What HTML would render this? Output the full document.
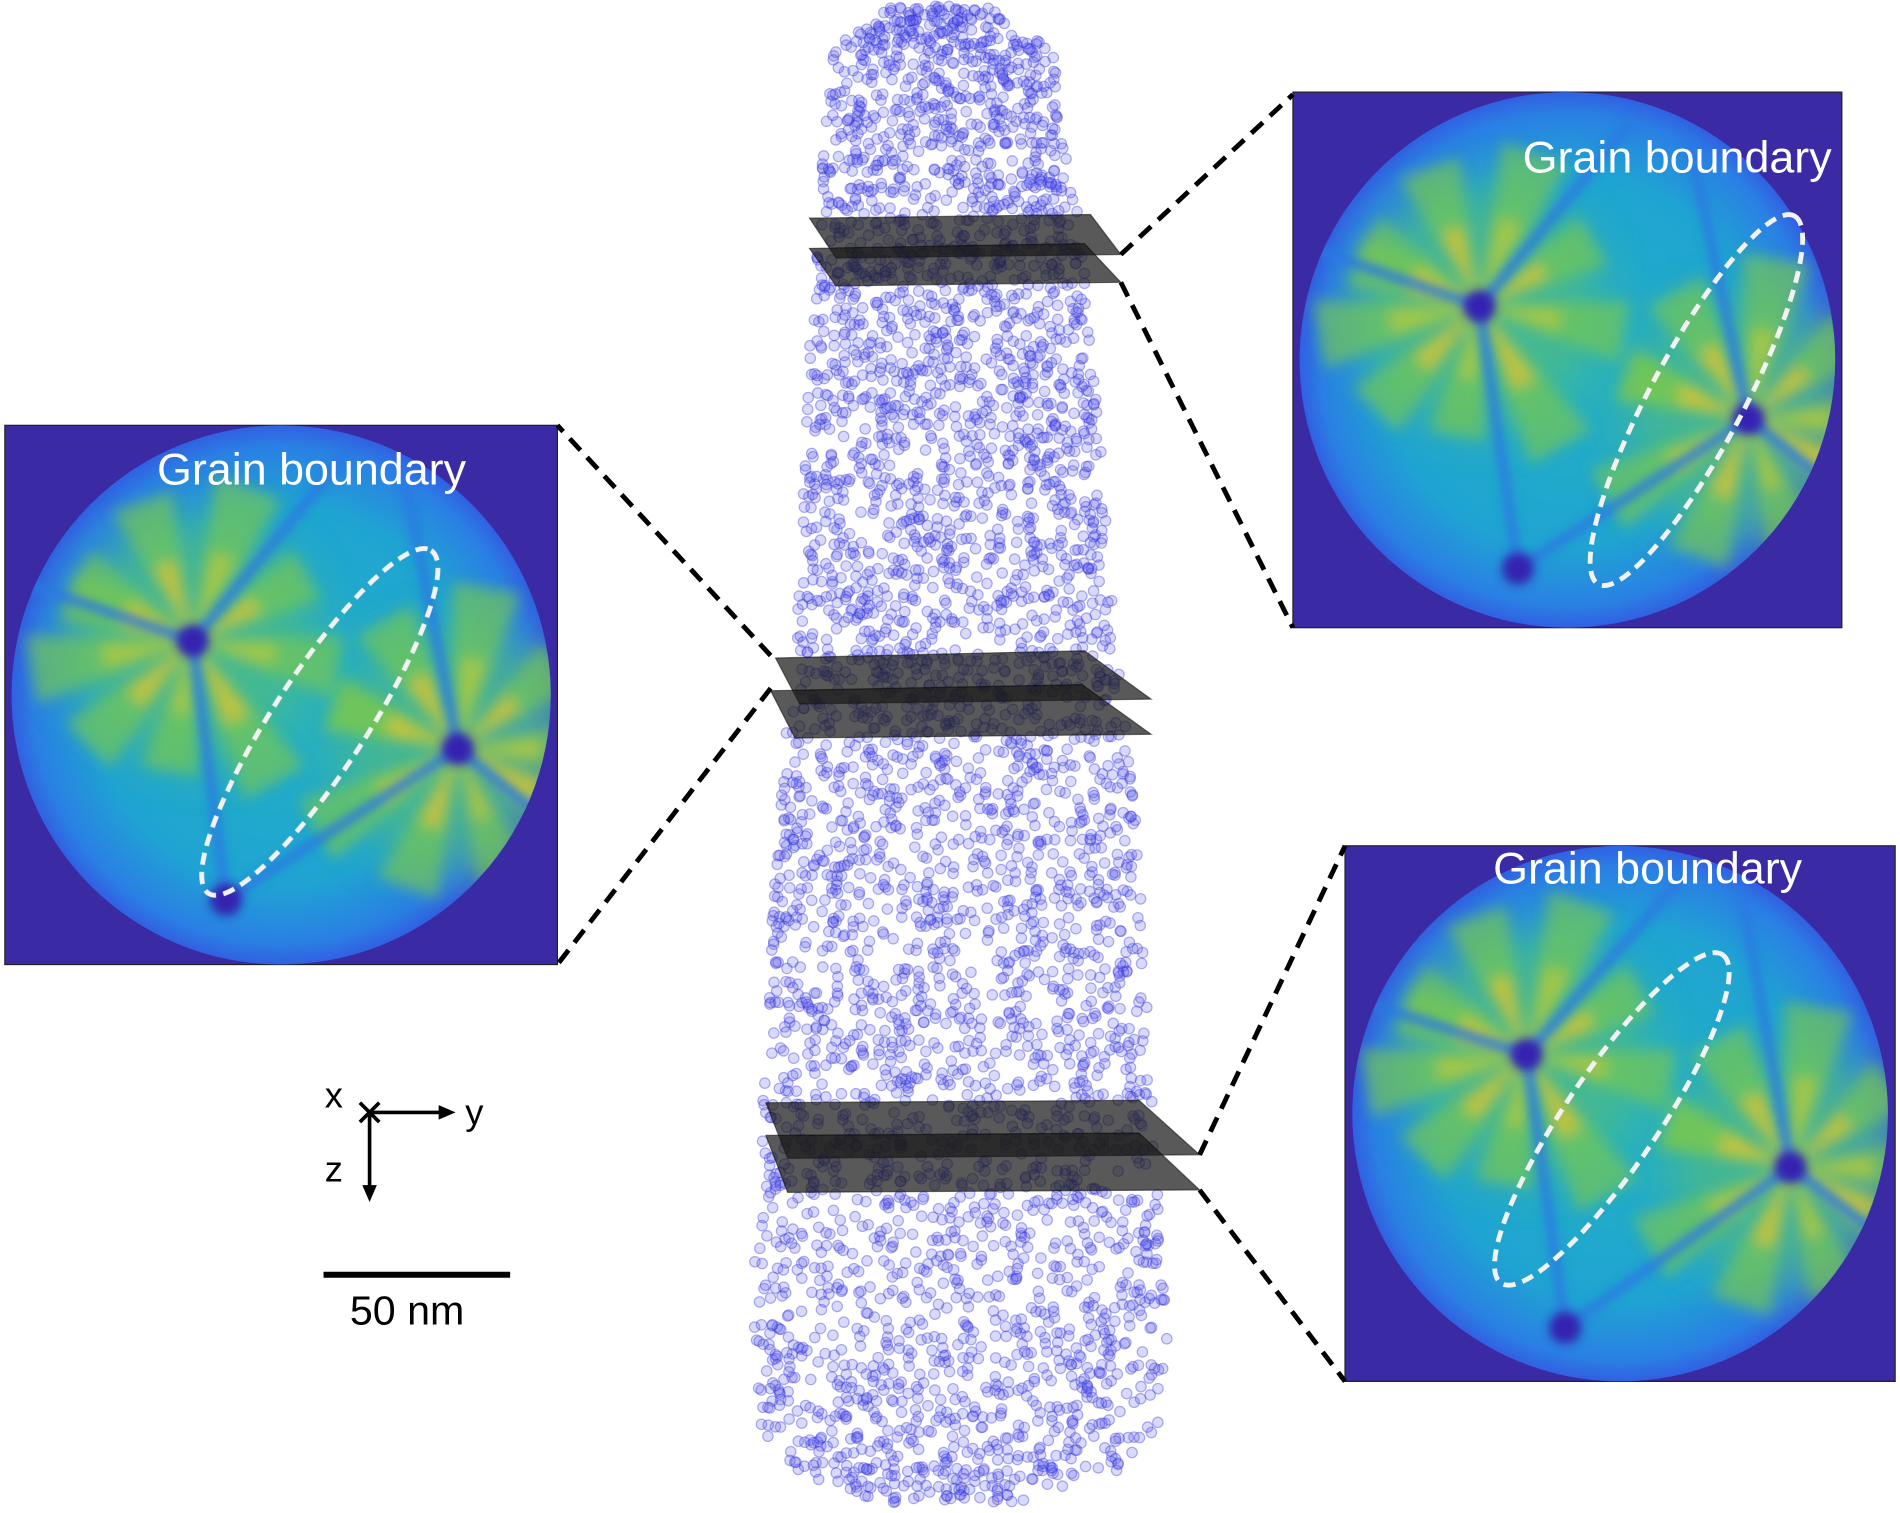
<!DOCTYPE html>
<html><head><meta charset="utf-8"><style>
html,body{margin:0;padding:0;background:#fff}
svg{display:block}
</style></head><body>
<svg id="root" xmlns="http://www.w3.org/2000/svg" width="1900" height="1513" viewBox="0 0 1568 1248.6">
<defs>
<radialGradient id="disk" cx="50%" cy="50%" r="50%">
<stop offset="0%" stop-color="#25b2c2"/><stop offset="70%" stop-color="#1fa4d2"/><stop offset="92%" stop-color="#2a80e4"/><stop offset="100%" stop-color="#3160e2"/>
</radialGradient>
<filter id="blur" x="-20%" y="-20%" width="140%" height="140%"><feGaussianBlur stdDeviation="6"/></filter>
<filter id="blur2" x="-50%" y="-50%" width="200%" height="200%"><feGaussianBlur stdDeviation="4"/></filter>
<filter id="blur3" x="-50%" y="-50%" width="200%" height="200%"><feGaussianBlur stdDeviation="20"/></filter>
</defs>
<g id="cloud"></g>
<g id="planes"></g>
<g id="panels"></g>
<g id="conn" stroke="#000" stroke-width="4" stroke-dasharray="13 8" fill="none">
<line x1="925" y1="210" x2="1067" y2="78"/><line x1="925" y1="233" x2="1067" y2="518"/>
<line x1="636" y1="541" x2="460" y2="351"/><line x1="636" y1="568" x2="460" y2="796"/>
<line x1="990" y1="953" x2="1110" y2="698"/><line x1="990" y1="982" x2="1110" y2="1140"/>
</g>
<g stroke="#000" stroke-width="3" fill="#000">
<line x1="305" y1="918" x2="364" y2="918"/><polygon points="376,918 362,912 362,924" stroke="none"/>
<line x1="305" y1="918" x2="305" y2="980"/><polygon points="305,992 299,978 311,978" stroke="none"/>
<line x1="297" y1="910" x2="313" y2="926"/><line x1="313" y1="910" x2="297" y2="926"/>
</g>
<text x="268" y="914" font-family="Liberation Sans, sans-serif" font-size="30">x</text>
<text x="384" y="928" font-family="Liberation Sans, sans-serif" font-size="30">y</text>
<text x="268" y="975" font-family="Liberation Sans, sans-serif" font-size="30">z</text>
<line x1="267" y1="1052" x2="421" y2="1052" stroke="#000" stroke-width="5"/>
<text x="336" y="1093" text-anchor="middle" font-family="Liberation Sans, sans-serif" font-size="34">50 nm</text>
</svg>
<script>
const NS='http://www.w3.org/2000/svg';
function mk(tag,attrs,parent){const e=document.createElementNS(NS,tag);for(const k in attrs)e.setAttribute(k,attrs[k]);parent.appendChild(e);return e;}
let seed=12345;function rnd(){seed=(seed*1103515245+12345)%2147483648;return seed/2147483648;}
const profY=[5,40,150,300,500,700,900,1100,1180,1215,1240];
const profW=[40,90,105,118,130,150,160,172,165,130,60];
const profC=[775,778,782,785,788,790,790,792,792,790,780];
function interp(arr,y){for(let i=0;i<profY.length-1;i++){if(y<=profY[i+1]){const t=(y-profY[i])/(profY[i+1]-profY[i]);return arr[i]+t*(arr[i+1]-arr[i]);}}return arr[arr.length-1];}
const cloud=document.getElementById('cloud');
for(let i=0;i<4600;i++){
  const y=5+rnd()*1235; const hw=interp(profW,y), c=interp(profC,y);
  const x=c+(rnd()*2-1)*hw;
  const p=mk('circle',{cx:x.toFixed(1),cy:y.toFixed(1),r:4.3,fill:'rgba(80,80,235,0.22)',stroke:'rgba(50,50,215,0.38)','stroke-width':1},cloud);
  
  
}
const planes=document.getElementById('planes');
const sheets=[
 "668,180 900,177 925,210 690,213","668,205 895,201 925,233 690,236",
 "640,543 895,537 950,577 660,581","636,570 893,565 950,606 656,609",
 "632,910 940,908 990,953 650,956","632,937 940,935 990,982 650,984"];
sheets.forEach((pts,i)=>{const s=mk('polygon',{points:pts,fill:'rgba(25,25,25,0.72)',stroke:'rgba(0,0,0,0.5)','stroke-width':1},planes);
 
 });
const panelsG=document.getElementById('panels');
const panels=[
 {x:4,y:351,w:456,h:445,j:[[0.34,0.40],[0.82,0.60]],spot:[0.40,0.88],el:[0.57,0.55,0.37,0.085,-57],tx:0.555,ty:0.11},
 {x:1067,y:76,w:453,h:442,j:[[0.34,0.40],[0.83,0.61]],spot:[0.41,0.89],el:[0.735,0.575,0.38,0.085,-62],tx:0.70,ty:0.15},
 {x:1110,y:698,w:454,h:442,j:[[0.33,0.39],[0.81,0.60]],spot:[0.40,0.90],el:[0.485,0.51,0.36,0.085,-56],tx:0.55,ty:0.07}];
const rayAngles=[[-150,-110,-70,-30,10,60,100,135,170,200],[-160,-120,-80,-40,0,30,70,110,150,200]];
panels.forEach((P,pi)=>{
  const g=mk('g',{},panelsG);
  
  
  const X=f=>P.x+f*P.w, Y=f=>P.y+f*P.h;
  mk('rect',{x:P.x,y:P.y,width:P.w,height:P.h,fill:'#3a2aa3',stroke:'#222','stroke-width':1},g);
  const cid='clip'+pi;const cp=mk('clipPath',{id:cid},g);
  const R=Math.min(P.w,P.h)/2;
  mk('circle',{cx:X(0.5),cy:Y(0.5),r:R},cp);
  mk('circle',{cx:X(0.5),cy:Y(0.5),r:R,fill:'url(#disk)'},g);
  const inner=mk('g',{'clip-path':'url(#'+cid+')'},g);
  const hg=mk('g',{filter:'url(#blur3)'},inner);
  P.j.forEach(jj=>mk('circle',{cx:X(jj[0]),cy:Y(jj[1]),r:R*0.45,fill:'#5cc070',opacity:0.6},hg));
  const wg=mk('g',{filter:'url(#blur)'},inner);
  P.j.forEach((jj,k)=>{
    const cx=X(jj[0]),cy=Y(jj[1]);
    rayAngles[k].forEach((a,ai)=>{
      const L=R*(0.5+0.12*((ai*7)%3)/2), hw=12*Math.PI/180, ar=a*Math.PI/180;
      const pts=[[cx,cy],[cx+L*Math.cos(ar-hw),cy+L*Math.sin(ar-hw)],[cx+L*Math.cos(ar+hw),cy+L*Math.sin(ar+hw)]];
      mk('polygon',{points:pts.map(p=>p.join(',')).join(' '),fill:'#78c850',opacity:0.65},wg);
      const L2=L*0.55;
      const pts2=[[cx,cy],[cx+L2*Math.cos(ar-hw*0.7),cy+L2*Math.sin(ar-hw*0.7)],[cx+L2*Math.cos(ar+hw*0.7),cy+L2*Math.sin(ar+hw*0.7)]];
      mk('polygon',{points:pts2.map(p=>p.join(',')).join(' '),fill:(ai%2?'#e6c233':'#bcc83c'),opacity:0.7},wg);
    });
  });
  const bl=mk('g',{stroke:'#2c78e2','stroke-width':7,fill:'none',filter:'url(#blur2)'},inner);
  const j0=P.j[0],j1=P.j[1],s=P.spot;
  mk('line',{x1:X(j0[0]),y1:Y(j0[1]),x2:X(s[0]),y2:Y(s[1])},bl);
  mk('line',{x1:X(j1[0]),y1:Y(j1[1]),x2:X(s[0]),y2:Y(s[1])},bl);
  mk('line',{x1:X(j0[0]),y1:Y(j0[1]),x2:X(0.0),y2:Y(0.28)},bl);
  mk('line',{x1:X(j0[0]),y1:Y(j0[1]),x2:X(0.62),y2:Y(0.05)},bl);
  mk('line',{x1:X(j1[0]),y1:Y(j1[1]),x2:X(0.72),y2:Y(0.08)},bl);
  mk('line',{x1:X(j1[0]),y1:Y(j1[1]),x2:X(1.0),y2:Y(0.75)},bl);
  const sg=mk('g',{fill:'#3522b0',filter:'url(#blur2)'},inner);
  [j0,j1,s].forEach(q=>mk('circle',{cx:X(q[0]),cy:Y(q[1]),r:R*0.06},sg));
  const E=P.el;
  const el=mk('ellipse',{cx:X(E[0]),cy:Y(E[1]),rx:E[2]*P.w,ry:E[3]*P.w,transform:`rotate(${E[4]} ${X(E[0])} ${Y(E[1])})`,fill:'none',stroke:'#f2f2f2','stroke-width':4,'stroke-dasharray':'10 6'},g);
  
  
  const t=mk('text',{x:X(P.tx),y:Y(P.ty),'text-anchor':'middle','font-family':'Liberation Sans, sans-serif','font-size':37,fill:'#fff'},g);
  t.textContent='Grain boundary';
  
  
});
</script>
</body></html>
